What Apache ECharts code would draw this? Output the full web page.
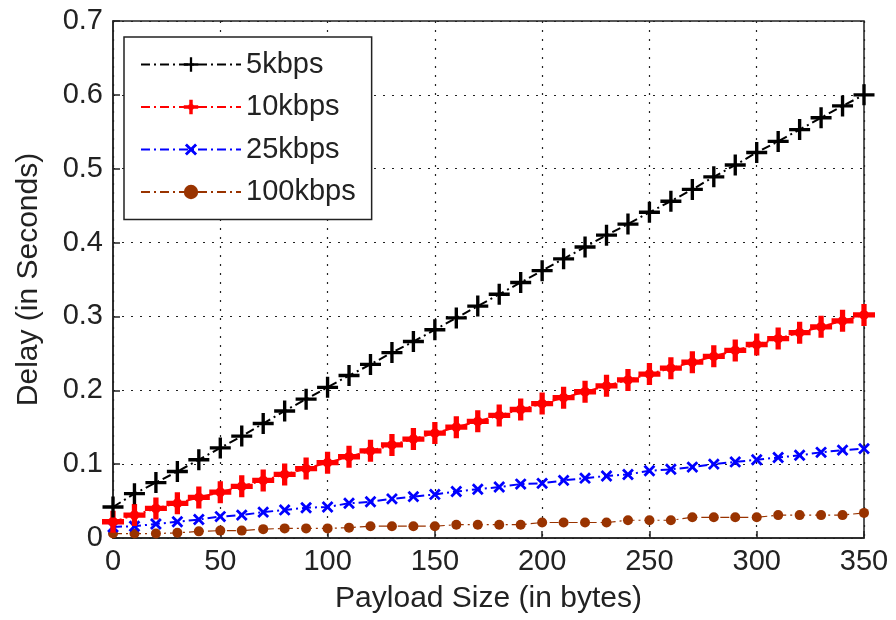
<!DOCTYPE html>
<html>
<head>
<meta charset="utf-8">
<script src="https://cdn.jsdelivr.net/npm/echarts@6/dist/echarts.min.js"></script>
<style>
html,body{margin:0;padding:0;background:#fff;}
#chart{width:896px;height:620px;}
</style>
</head>
<body>
<div id="chart"></div>
<script>
const payloadSizes = [0,10,20,30,40,50,60,70,80,90,100,110,120,130,140,150,160,170,180,190,200,210,220,230,240,250,260,270,280,290,300,310,320,330,340,350];
const delay5kbps = [0.042,0.060,0.075,0.090,0.106,0.122,0.138,0.155,0.172,0.188,0.204,0.220,0.235,0.251,0.266,0.282,0.298,0.314,0.330,0.346,0.362,0.378,0.394,0.410,0.425,0.441,0.456,0.472,0.489,0.505,0.522,0.537,0.553,0.569,0.585,0.600];
const delay10kbps = [0.022,0.031,0.040,0.047,0.055,0.062,0.070,0.078,0.086,0.094,0.102,0.110,0.118,0.126,0.134,0.142,0.150,0.158,0.166,0.174,0.182,0.190,0.198,0.206,0.214,0.222,0.230,0.238,0.246,0.254,0.262,0.270,0.278,0.286,0.294,0.302];
const delay25kbps = [0.015,0.016,0.019,0.022,0.025,0.029,0.031,0.035,0.038,0.041,0.042,0.047,0.049,0.053,0.056,0.059,0.063,0.066,0.069,0.073,0.074,0.078,0.081,0.084,0.086,0.091,0.093,0.096,0.100,0.103,0.106,0.109,0.112,0.116,0.119,0.121];
const delay100kbps = [0.006,0.006,0.006,0.007,0.009,0.010,0.010,0.012,0.013,0.013,0.013,0.014,0.016,0.016,0.016,0.016,0.018,0.018,0.018,0.018,0.021,0.021,0.021,0.021,0.024,0.024,0.024,0.028,0.028,0.028,0.028,0.031,0.031,0.031,0.031,0.034];
const seriesNames = ['5kbps','10kbps','25kbps','100kbps'];
const xTicks = [0,50,100,150,200,250,300,350];
const yTicks = [0,0.1,0.2,0.3,0.4,0.5,0.6,0.7];

const FONT = 'Liberation Sans, Arial, sans-serif';
const FS = 29;
const plusThin = 'path://M-0.16,-1H0.16V-0.16H1V0.16H0.16V1H-0.16V0.16H-1V-0.16H-0.16Z';
const plusThick = 'path://M-0.24,-1H0.24V-0.38L0.38,-0.24H1V0.24H0.38L0.24,0.38V1H-0.24V0.38L-0.38,0.24H-1V-0.24H-0.38L-0.24,-0.38Z';
const crossX = 'path://M-0.2,-1H0.2V-0.2H1V0.2H0.2V1H-0.2V0.2H-1V-0.2H-0.2Z';

function pairs(ys){ return payloadSizes.map((x,i)=>[x, ys[i]]); }

const chart = echarts.init(document.getElementById('chart'));
const dashDot = [9,4,2,4];
chart.setOption({
  animation:false,
  backgroundColor:'#fff',
  grid:{left:113,right:32,top:21,bottom:82,show:true,borderColor:'#222',borderWidth:1.5,backgroundColor:'transparent'},
  legend:{
    orient:'vertical', left:124, top:37,
    backgroundColor:'#fff', borderColor:'#222', borderWidth:1.5,
    padding:[13,16,13,16],
    itemWidth:100, itemHeight:18, itemGap:13.5,
    textStyle:{fontFamily:FONT,fontSize:FS,color:'#222',lineHeight:29},
    data:seriesNames
  },
  xAxis:{
    type:'value', min:0, max:350, interval:50,
    axisLine:{show:true,lineStyle:{color:'#222',width:1.5}},
    axisTick:{show:true,inside:true,length:7,lineStyle:{color:'#222',width:1.5}},
    axisLabel:{fontFamily:FONT,fontSize:FS,color:'#222',margin:9},
    splitLine:{show:true,lineStyle:{color:'#222',type:[2,7],width:1.2}},
    name:'Payload Size (in bytes)', nameLocation:'middle', nameGap:46,
    nameTextStyle:{fontFamily:FONT,fontSize:30,color:'#222'}
  },
  yAxis:{
    type:'value', min:0, max:0.7, interval:0.1,
    axisLine:{show:true,lineStyle:{color:'#222',width:1.5}},
    axisTick:{show:true,inside:true,length:7,lineStyle:{color:'#222',width:1.5}},
    axisLabel:{fontFamily:FONT,fontSize:FS,color:'#222',margin:10,
      formatter:v=>{const t=yTicks.find(k=>Math.abs(k-v)<1e-9);return t===0?'0':(t!==undefined?t.toFixed(1):'');}},
    splitLine:{show:true,lineStyle:{color:'#222',type:[2,7],width:1.2}},
    name:'Delay (in Seconds)', nameLocation:'middle', nameGap:69, nameRotate:90,
    nameTextStyle:{fontFamily:FONT,fontSize:30,color:'#222'}
  },
  series:[
    {name:seriesNames[0],type:'line',data:pairs(delay5kbps),symbol:plusThin,symbolSize:21,
      itemStyle:{color:'#000'},lineStyle:{color:'#000',width:2,type:dashDot},z:5},
    {name:seriesNames[1],type:'line',data:pairs(delay10kbps),symbol:plusThick,symbolSize:22,
      itemStyle:{color:'#ff0000'},lineStyle:{color:'#ff0000',width:2,type:dashDot},z:4},
    {name:seriesNames[2],type:'line',data:pairs(delay25kbps),symbol:crossX,symbolRotate:45,symbolSize:14,
      itemStyle:{color:'#0000ff'},lineStyle:{color:'#0000ff',width:2,type:dashDot},z:3},
    {name:seriesNames[3],type:'line',data:pairs(delay100kbps),symbol:'circle',symbolSize:10,
      itemStyle:{color:'#993300'},lineStyle:{color:'#993300',width:1.2,type:dashDot},z:2}
  ]
});
</script>
</body>
</html>
